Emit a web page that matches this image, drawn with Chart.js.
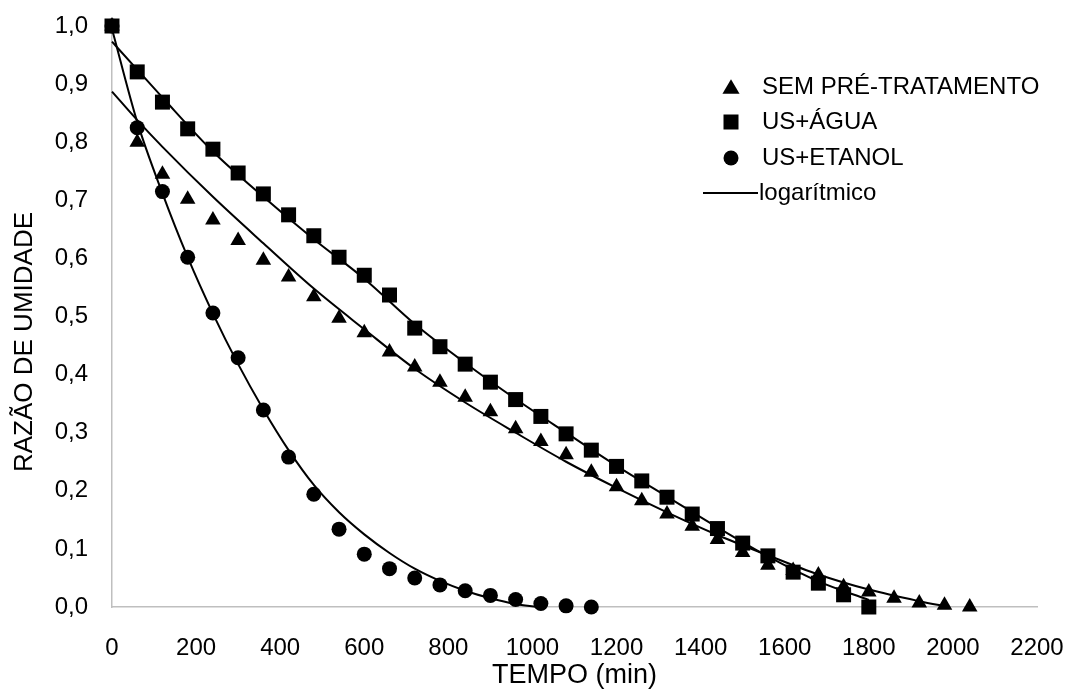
<!DOCTYPE html>
<html>
<head>
<meta charset="utf-8">
<script src="https://cdn.jsdelivr.net/npm/chart.js@4.4.1/dist/chart.umd.min.js"></script>
<style>
  html, body { margin: 0; padding: 0; background: #fff; }
  #wrap { width: 1069px; height: 689px; position: relative; }
</style>
</head>
<body>
<div id="wrap"><canvas id="chart"></canvas></div>
<script>
// tempo (min) for each series
const tempoSem = [0,60,120,180,240,300,360,420,480,540,600,660,720,780,840,900,960,1020,1080,1140,1200,1260,1320,1380,1440,1500,1560,1620,1680,1740,1800,1860,1920,1980,2040];
const razaoSem = [1.0,0.800,0.745,0.702,0.666,0.631,0.597,0.568,0.534,0.497,0.472,0.439,0.413,0.387,0.361,0.336,0.307,0.285,0.262,0.232,0.207,0.183,0.160,0.139,0.116,0.094,0.072,0.063,0.055,0.035,0.026,0.015,0.007,0.003,0.0];

const tempoAgua = [0,60,120,180,240,300,360,420,480,540,600,660,720,780,840,900,960,1020,1080,1140,1200,1260,1320,1380,1440,1500,1560,1620,1680,1740,1800];
const razaoAgua = [1.0,0.921,0.869,0.823,0.788,0.747,0.711,0.675,0.639,0.602,0.571,0.537,0.480,0.448,0.418,0.387,0.357,0.328,0.298,0.270,0.242,0.217,0.189,0.160,0.135,0.110,0.088,0.060,0.041,0.021,0.0];

const tempoEtanol = [0,60,120,180,240,300,360,420,480,540,600,660,720,780,840,900,960,1020,1080,1140];
const razaoEtanol = [1.0,0.825,0.715,0.602,0.506,0.429,0.339,0.258,0.194,0.134,0.091,0.066,0.050,0.038,0.028,0.020,0.013,0.006,0.002,0.0];

// fitted curves (logarítmico)
const ajusteSemX = [0,60,120,240,360,480,600,720,840,960,1080,1200,1320,1440,1560,1680,1800,1920,1990];
const ajusteSemY = [0.887,0.838,0.792,0.706,0.626,0.548,0.478,0.410,0.352,0.300,0.250,0.205,0.163,0.124,0.089,0.056,0.030,0.010,0.0];

const ajusteAguaX = [0,60,120,240,360,480,600,720,840,960,1080,1200,1320,1440,1560,1680,1800];
const ajusteAguaY = [0.973,0.925,0.877,0.784,0.706,0.633,0.565,0.487,0.420,0.358,0.300,0.243,0.190,0.137,0.087,0.044,0.012];

const ajusteEtanolX = [0,60,120,180,240,300,360,420,480,540,600,660,720,780,840,900,960,1010];
const ajusteEtanolY = [0.995,0.835,0.712,0.602,0.505,0.418,0.340,0.270,0.210,0.163,0.125,0.093,0.066,0.045,0.028,0.015,0.005,0.0];

const nomes = ['SEM PRÉ-TRATAMENTO', 'US+ÁGUA', 'US+ETANOL', 'logarítmico'];

function pares(xs, ys) {
  return xs.map((x, i) => ({ x: x, y: ys[i] }));
}

Chart.defaults.font.family = "'Liberation Sans', Arial, sans-serif";
Chart.defaults.font.size = 24;
Chart.defaults.color = '#000';

function ajuste(xs, ys) {
  return {
    label: nomes[3],
    data: pares(xs, ys),
    showLine: true,
    borderColor: '#000',
    borderWidth: 2,
    pointRadius: 0,
    cubicInterpolationMode: 'monotone',
    fill: false,
    clip: false
  };
}

function semPadding(scale) {
  scale.paddingTop = 0;
  scale.paddingBottom = 0;
  scale.paddingLeft = 0;
  scale.paddingRight = 0;
}

// legend drawn inside the plot, top right
const legendaInterna = {
  id: 'legendaInterna',
  afterDraw(chart) {
    const ctx = chart.ctx;
    const mx = 731, tx = 762;
    const ys = [87, 122, 158, 193];
    ctx.save();
    ctx.fillStyle = '#000';
    ctx.strokeStyle = '#000';
    // triangle
    let r = 9;
    ctx.beginPath();
    ctx.moveTo(mx, ys[0] - r * 0.85);
    ctx.lineTo(mx + r * 0.95, ys[0] + r * 0.75);
    ctx.lineTo(mx - r * 0.95, ys[0] + r * 0.75);
    ctx.closePath();
    ctx.fill();
    // square
    ctx.fillRect(mx - 7.5, ys[1] - 7.5, 15, 15);
    // circle
    ctx.beginPath();
    ctx.arc(mx, ys[2], 7.5, 0, Math.PI * 2);
    ctx.fill();
    // line
    ctx.lineWidth = 2;
    ctx.beginPath();
    ctx.moveTo(703, ys[3]);
    ctx.lineTo(758, ys[3]);
    ctx.stroke();

    ctx.font = "24px 'Liberation Sans', Arial, sans-serif";
    ctx.textBaseline = 'middle';
    ctx.textAlign = 'left';
    nomes.forEach((t, i) => ctx.fillText(t, i === 3 ? 759 : tx, ys[i]));

    // y axis title
    ctx.translate(25, 342);
    ctx.rotate(-Math.PI / 2);
    ctx.textAlign = 'center';
    ctx.font = "26px 'Liberation Sans', Arial, sans-serif";
    ctx.fillText('RAZÃO DE UMIDADE', 0, 0);
    ctx.restore();
  }
};

new Chart(document.getElementById('chart'), {
  type: 'scatter',
  data: {
    datasets: [
      {
        label: nomes[0],
        data: pares(tempoSem, razaoSem),
        pointStyle: 'triangle',
        pointRadius: 9,
        backgroundColor: '#000',
        borderColor: '#000',
        borderWidth: 0,
        clip: false
      },
      {
        label: nomes[1],
        data: pares(tempoAgua, razaoAgua),
        pointStyle: 'rect',
        pointRadius: 10.6,
        backgroundColor: '#000',
        borderColor: '#000',
        borderWidth: 0,
        clip: false
      },
      {
        label: nomes[2],
        data: pares(tempoEtanol, razaoEtanol),
        pointStyle: 'circle',
        pointRadius: 7.5,
        backgroundColor: '#000',
        borderColor: '#000',
        borderWidth: 0,
        clip: false
      },
      ajuste(ajusteSemX, ajusteSemY),
      ajuste(ajusteAguaX, ajusteAguaY),
      ajuste(ajusteEtanolX, ajusteEtanolY)
    ]
  },
  options: {
    responsive: true,
    maintainAspectRatio: false,
    animation: false,
    layout: { padding: { top: 26, right: 32, left: 0, bottom: 0 } },
    plugins: {
      legend: { display: false },
      tooltip: { enabled: false }
    },
    scales: {
      x: {
        type: 'linear',
        min: 0,
        max: 2200,
        ticks: { stepSize: 200, padding: 27, color: '#000', callback: (v) => String(v) },
        grid: { display: false, drawTicks: false },
        border: { display: true, color: '#bfbfbf', width: 1.5 },
        title: { display: true, text: 'TEMPO (min)', font: { size: 27 }, padding: { top: 0, bottom: -3 } },
        afterFit(scale) { scale.height = 82; semPadding(scale); }
      },
      y: {
        min: 0,
        max: 1,
        ticks: {
          stepSize: 0.1,
          padding: 24,
          color: '#000',
          callback: (v) => v.toFixed(1).replace('.', ',')
        },
        grid: { display: false, drawTicks: false },
        border: { display: true, color: '#bfbfbf', width: 1.5 },
        afterFit(scale) { scale.width = 112; semPadding(scale); }
      }
    }
  },
  plugins: [legendaInterna]
});
</script>
</body>
</html>
